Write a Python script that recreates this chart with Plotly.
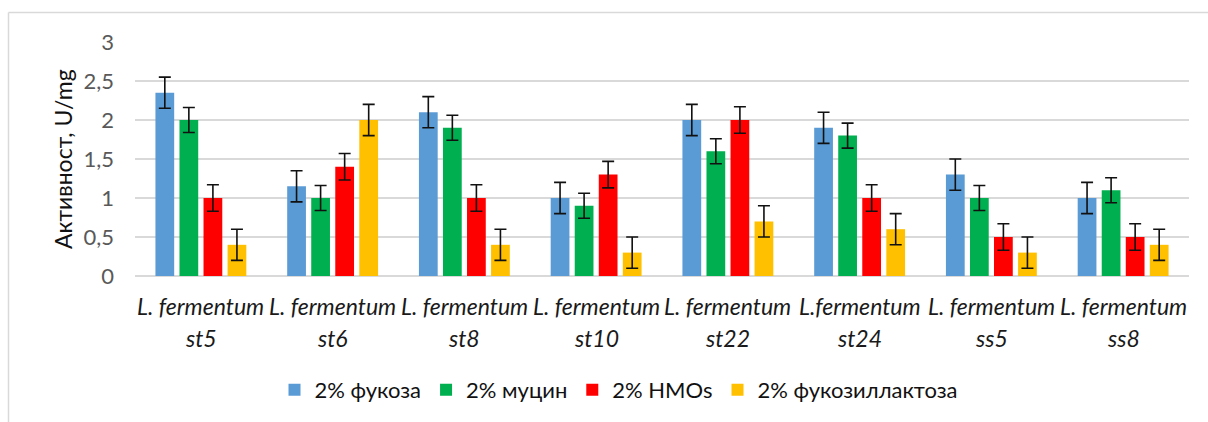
import plotly.graph_objects as go

# Strains (two-line category labels)
strain_genus = ["L. fermentum", "L. fermentum", "L. fermentum", "L. fermentum",
                "L. fermentum", "L.fermentum", "L. fermentum", "L. fermentum"]
strain_code = ["st5", "st6", "st8", "st10", "st22", "st24", "ss5", "ss8"]
categories = [f"{g} {c}" for g, c in zip(strain_genus, strain_code)]

# Activity, U/mg, per substrate
fucose = [2.35, 1.15, 2.1, 1.0, 2.0, 1.9, 1.3, 1.0]
mucin = [2.0, 1.0, 1.9, 0.9, 1.6, 1.8, 1.0, 1.1]
hmos = [1.0, 1.4, 1.0, 1.3, 2.0, 1.0, 0.5, 0.5]
fucosyllactose = [0.4, 2.0, 0.4, 0.3, 0.7, 0.6, 0.3, 0.4]

# Error bar half-lengths
fucose_err = [0.2] * 8
mucin_err = [0.16] * 8
hmos_err = [0.17] * 8
fucosyllactose_err = [0.2] * 8

series_names = ["2% фукоза", "2% муцин", "2% HMOs", "2% фукозиллактоза"]
series_values = [fucose, mucin, hmos, fucosyllactose]
series_errors = [fucose_err, mucin_err, hmos_err, fucosyllactose_err]
series_colors = ["#5B9BD5", "#00B050", "#FF0000", "#FFC000"]

y_ticks = [0, 0.5, 1, 1.5, 2, 2.5, 3]

fig = go.Figure()
for name, vals, errs, col in zip(series_names, series_values, series_errors, series_colors):
    fig.add_trace(go.Bar(
        x=categories, y=vals, name=name,
        marker=dict(color=col, line=dict(width=0)),
        error_y=dict(type="data", array=errs, visible=True,
                     color="#111111", thickness=1.6, width=6),
    ))

W, H = 1208, 422
L, R, T, B = 135, 19, 42, 146
pw, ph = W - L - R, H - T - B

def px_x(px):
    return (px - L) / pw

def px_y(py):
    return (H - B - py) / ph

label_font = dict(family="Lato", size=23, color="#1a1a1a", style="italic")
annotations = []
for cat, g, c in zip(categories, strain_genus, strain_code):
    annotations.append(dict(x=cat, xref="x", y=px_y(306), yref="paper", text=g,
                            showarrow=False, yanchor="middle", xanchor="center",
                            font=label_font))
    annotations.append(dict(x=cat, xref="x", y=px_y(338), yref="paper", text=c,
                            showarrow=False, yanchor="middle", xanchor="center",
                            font=label_font))

# Y-axis title
annotations.append(dict(x=px_x(63), xref="paper", y=px_y(159), yref="paper",
                        text="Активност, U/mg", textangle=-90, showarrow=False,
                        xanchor="center", yanchor="middle",
                        font=dict(family="Lato", size=23, color="#111111")))

shapes = [
    dict(type="line", xref="paper", yref="paper", x0=px_x(8.5), x1=px_x(1210),
         y0=px_y(12.5), y1=px_y(12.5), line=dict(color="#D9D9D9", width=1.5)),
    dict(type="line", xref="paper", yref="paper", x0=px_x(8.5), x1=px_x(8.5),
         y0=px_y(12.5), y1=px_y(424), line=dict(color="#D9D9D9", width=1.5)),
]

fig.update_layout(
    width=W, height=H,
    margin=dict(l=L, r=R, t=T, b=B, autoexpand=False),
    paper_bgcolor="white", plot_bgcolor="white",
    barmode="group", bargap=0.27, bargroupgap=0.22,
    separators=", ",
    font=dict(family="Lato", color="#111111"),
    showlegend=True,
    legend=dict(orientation="h", x=px_x(619), xanchor="center",
                y=px_y(390), yanchor="middle",
                font=dict(family="Lato", size=22, color="#111111"),
                itemwidth=30, tracegroupgap=0),
    annotations=annotations,
    shapes=shapes,
    xaxis=dict(showticklabels=False, showgrid=False, zeroline=False,
               showline=False, ticks=""),
    yaxis=dict(range=[0, 3], tickvals=y_ticks, showgrid=True,
               gridcolor="#D9D9D9", gridwidth=1.5, zeroline=True,
               zerolinecolor="#D9D9D9", zerolinewidth=1.5, showline=False,
               ticks="", ticklabelstandoff=20,
               tickfont=dict(family="Lato", size=22, color="#595959")),
)

fig.write_html("out.html")
